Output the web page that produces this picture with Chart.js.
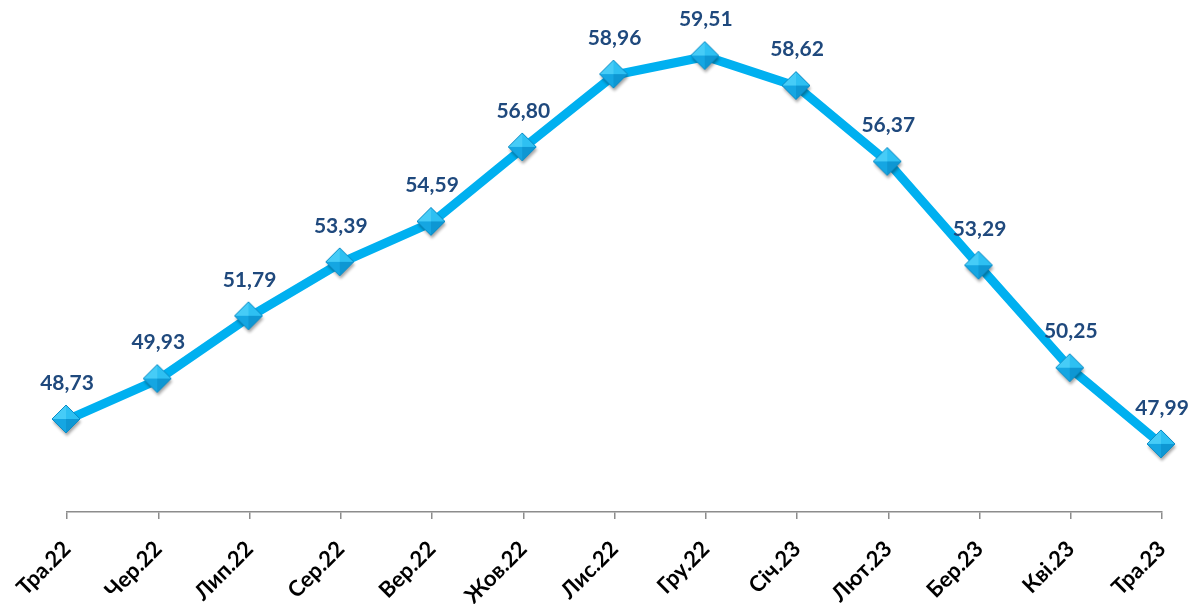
<!DOCTYPE html>
<html>
<head>
<meta charset="utf-8">
<script src="https://cdn.jsdelivr.net/npm/chart.js@4"></script>
<style>
  body { margin: 0; background: #fff; }
  #chart { display: block; }
</style>
</head>
<body>
<canvas id="chart" width="1202" height="604"></canvas>
<script>
const months = ['Тра.22', 'Чер.22', 'Лип.22', 'Сер.22', 'Вер.22', 'Жов.22', 'Лис.22',
  'Гру.22', 'Січ.23', 'Лют.23', 'Бер.23', 'Кві.23', 'Тра.23'];
const values = [48.73, 49.93, 51.79, 53.39, 54.59, 56.80, 58.96, 59.51, 58.62, 56.37, 53.29, 50.25, 47.99];
const yMin = 46;
const yMax = 60;

// diamond marker with facets and a soft shadow
function makeMarker() {
  const c = document.createElement('canvas');
  c.width = 40; c.height = 40;
  const g = c.getContext('2d');
  const cx = 19, cy = 19, r = 14;
  g.save();
  g.shadowColor = 'rgba(0,0,0,0.35)';
  g.shadowBlur = 3;
  g.shadowOffsetX = 1;
  g.shadowOffsetY = 3;
  g.beginPath();
  g.moveTo(cx - r, cy); g.lineTo(cx, cy - r); g.lineTo(cx + r, cy); g.lineTo(cx, cy + r);
  g.closePath();
  g.fillStyle = '#1AAEE8';
  g.fill();
  g.restore();
  const tri = (ax, ay, bx, by, col) => {
    g.beginPath();
    g.moveTo(cx, cy); g.lineTo(ax, ay); g.lineTo(bx, by); g.closePath();
    g.fillStyle = col; g.fill();
  };
  tri(cx - r, cy, cx, cy - r, '#46CCF7');
  tri(cx, cy - r, cx + r, cy, '#2EC0F2');
  tri(cx - r, cy, cx, cy + r, '#15A6E2');
  tri(cx, cy + r, cx + r, cy, '#0E97D3');
  g.beginPath();
  g.moveTo(cx - r, cy); g.lineTo(cx, cy - r); g.lineTo(cx + r, cy); g.lineTo(cx, cy + r);
  g.closePath();
  g.strokeStyle = '#0C8CC6';
  g.lineWidth = 1;
  g.stroke();
  return c;
}

// value labels above each point
const valueLabels = {
  id: 'valueLabels',
  afterDatasetsDraw(chart) {
    const ctx = chart.ctx;
    const meta = chart.getDatasetMeta(0);
    ctx.save();
    ctx.font = 'bold 21px Lato';
    ctx.fillStyle = '#1F497D';
    ctx.textAlign = 'center';
    ctx.textBaseline = 'middle';
    meta.data.forEach((pt, i) => {
      ctx.fillText(values[i].toFixed(2).replace('.', ','), pt.x, pt.y - 37);
    });
    ctx.restore();
  }
};

new Chart(document.getElementById('chart'), {
  type: 'line',
  data: {
    labels: months,
    datasets: [{
      data: values,
      borderColor: '#00B0F0',
      borderWidth: 9,
      tension: 0,
      pointStyle: makeMarker(),
      pointRadius: 14
    }]
  },
  options: {
    responsive: false,
    animation: false,
    layout: { padding: { left: 67, right: 40, top: 40, bottom: 0 } },
    plugins: { legend: { display: false }, tooltip: { enabled: false } },
    scales: {
      x: {
        offset: false,
        grid: { display: true, drawOnChartArea: false, drawTicks: true, tickLength: 7, color: '#8c8c8c', lineWidth: 1.5 },
        border: { display: true, color: '#8c8c8c', width: 1.5 },
        ticks: {
          autoSkip: false,
          minRotation: 45,
          maxRotation: 45,
          padding: 17,
          color: '#000',
          font: { family: 'Lato', weight: 'bold', size: 22 }
        },
        afterFit(s) {
          s.paddingLeft = 0;
          s.paddingRight = 0;
          s.height = 92;
        }
      },
      y: {
        display: false,
        min: yMin,
        max: yMax
      }
    }
  },
  plugins: [valueLabels]
});
</script>
</body>
</html>
